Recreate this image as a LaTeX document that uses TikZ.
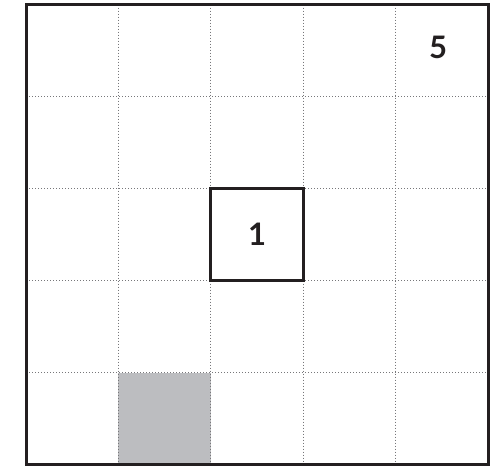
\documentclass[tikz,border=0pt]{standalone}
\usepackage{fontspec}
\setmainfont{Lato}
\definecolor{ink}{HTML}{231F20}
\definecolor{cellgray}{HTML}{BCBDC0}
\definecolor{dots}{HTML}{77777A}
\begin{document}
\begin{tikzpicture}[x=1pt,y=-1pt,
  gridline/.style={draw=dots,line width=1.2pt,dash pattern=on 1.2pt off 1.8pt},
  frame/.style={draw=ink,line width=3pt},
  digit/.style={font=\fontsize{31}{31}\selectfont\bfseries,text=ink,inner sep=0pt}]
\useasboundingbox (0,0) rectangle (503,467);
% shaded cell
\fill[cellgray] (118.4,373.3) rectangle (210.8,464.9);
% dotted grid lines
\foreach \i in {1,2,3,4} {
  \draw[gridline] ({26+92.4*\i},4.5) -- ({26+92.4*\i},464.9);
  \draw[gridline] (26,{4.5+92.08*\i}) -- (488,{4.5+92.08*\i});
}
% outer frame
\draw[frame] (26,4.5) rectangle (488,464.9);
% bold square
\draw[frame,line width=2.8pt] (210.8,188.7) rectangle (303.2,280.7);
% labels
\node[digit] (five) at (438,47.5) {5};
\node[digit] (one) at (257,234.5) {1};
\end{tikzpicture}
\end{document}
